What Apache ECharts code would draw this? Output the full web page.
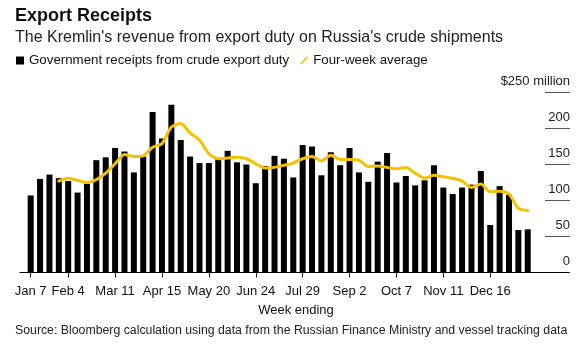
<!DOCTYPE html>
<html><head><meta charset="utf-8">
<script src="https://cdn.jsdelivr.net/npm/echarts@6/dist/echarts.min.js"></script>
<style>html,body{margin:0;padding:0;background:#fff}#c{width:582px;height:356px}</style>
</head><body><div id="c"></div>
<script>
const weeks = ["Jan 7","Jan 14","Jan 21","Jan 28","Feb 4","Feb 11","Feb 18","Feb 25","Mar 4","Mar 11","Mar 18","Mar 25","Apr 1","Apr 8","Apr 15","Apr 22","Apr 29","May 6","May 13","May 20","May 27","Jun 3","Jun 10","Jun 17","Jun 24","Jul 1","Jul 8","Jul 15","Jul 22","Jul 29","Aug 5","Aug 12","Aug 19","Aug 26","Sep 2","Sep 9","Sep 16","Sep 23","Sep 30","Oct 7","Oct 14","Oct 21","Oct 28","Nov 4","Nov 11","Nov 18","Nov 25","Dec 2","Dec 9","Dec 16","Dec 23","Dec 30","Jan 6","Jan 13"];
const receipts = [107,130,136,131,127,111,123,156,160,173,168,139,161,223,186,233,184,161,152,152,158,169,153,150,124,148,162,158,132,177,175,135,167,149,173,139,126,154,166,125,134,121,128,149,118,109,118,122,141,66,120,108,59,60];
const fourWeekAvg = [null,null,null,127,131,128,125,129,138,151,164,161,162,174,179,202,207,194,184,165,158,159,160,158,151,145,146,149,152,158,161,155,163,157,157,156,147,148,146,144,146,138,131,135,133,131,127,118,123,112,113,109,89,86];
const tickLabels = ["Jan 7","Feb 4","Mar 11","Apr 15","May 20","Jun 24","Jul 29","Sep 2","Oct 7","Nov 11","Dec 16"];
const yTicks = [0,50,100,150,200,250];

const tickIdx = tickLabels.map(l => weeks.indexOf(l));
const font = "'Liberation Sans', Arial, sans-serif";
const chart = echarts.init(document.getElementById('c'), null, {renderer:'canvas'});
chart.setOption({
  animation:false,
  backgroundColor:'#fff',
  textStyle:{fontFamily:font},
  title:[
    {text:'Export Receipts', left:15, top:7, padding:0, textStyle:{fontFamily:font,fontSize:18,fontWeight:'bold',color:'#111'}},
    {text:"The Kremlin's revenue from export duty on Russia's crude shipments", left:15, top:29.5, padding:0, textStyle:{fontFamily:font,fontSize:16,fontWeight:'normal',color:'#222'}}
  ],
  legend:{
    left:16, top:54, padding:0, itemGap:11, itemWidth:8, itemHeight:8,
    textStyle:{fontFamily:font,fontSize:13.3,color:'#111'},
    data:[
      {name:'Government receipts from crude export duty', icon:'rect'},
      {name:'Four-week average', icon:'path://M8.3,0 L10,1.4 L1.7,10 L0,8.6 Z'}
    ]
  },
  grid:[
    {left:20, right:13, top:92.5, bottom:83.5},
    {left:545, right:12, top:92.5, bottom:83.5}
  ],
  xAxis:[
    {type:'value', gridIndex:0, min:-1.14, max:57.4,
     splitLine:{show:false},
     axisLine:{show:true, lineStyle:{color:'#000',width:1}},
     axisTick:{show:true, customValues:tickIdx, length:5, lineStyle:{color:'#222'}},
     axisLabel:{customValues:tickIdx, formatter:v=>weeks[v], fontFamily:font, fontSize:13, color:'#111', margin:12}},
    {type:'value', gridIndex:1, min:0, max:1, show:false}
  ],
  yAxis:[
    {type:'value', gridIndex:0, min:0, max:250, interval:50, show:false},
    {type:'value', gridIndex:1, min:0, max:250, interval:50, position:'right',
     axisLine:{show:false}, axisTick:{show:false},
     splitLine:{show:true, lineStyle:{color:'#555', width:1}},
     axisLabel:{inside:true, margin:0, align:'right', verticalAlign:'bottom', padding:[0,0,5,0],
       fontFamily:font, fontSize:13, color:'#222',
       formatter:v => v===250 ? '$250 million' : String(v)}}
  ],
  series:[
    {name:'Government receipts from crude export duty', type:'bar', xAxisIndex:0, yAxisIndex:0,
     barWidth:6, itemStyle:{color:'#000'},
     data:receipts.map((v,i)=>[i,v])},
    {name:'Four-week average', type:'line', xAxisIndex:0, yAxisIndex:0,
     showSymbol:false, symbol:'none', smooth:0.25,
     lineStyle:{color:'#F6C100', width:3, cap:'round', join:'round'}, itemStyle:{color:'#F6C100'},
     data:fourWeekAvg.map((v,i)=>[i,v])}
  ],
  graphic:[
    {type:'text', x:296, y:304, style:{text:'Week ending', font:'13px '+font, fill:'#111', textAlign:'center'}},
    {type:'text', x:15, y:325, style:{text:'Source: Bloomberg calculation using data from the Russian Finance Ministry and vessel tracking data', font:'12.3px '+font, fill:'#222'}}
  ]
});
</script></body></html>
